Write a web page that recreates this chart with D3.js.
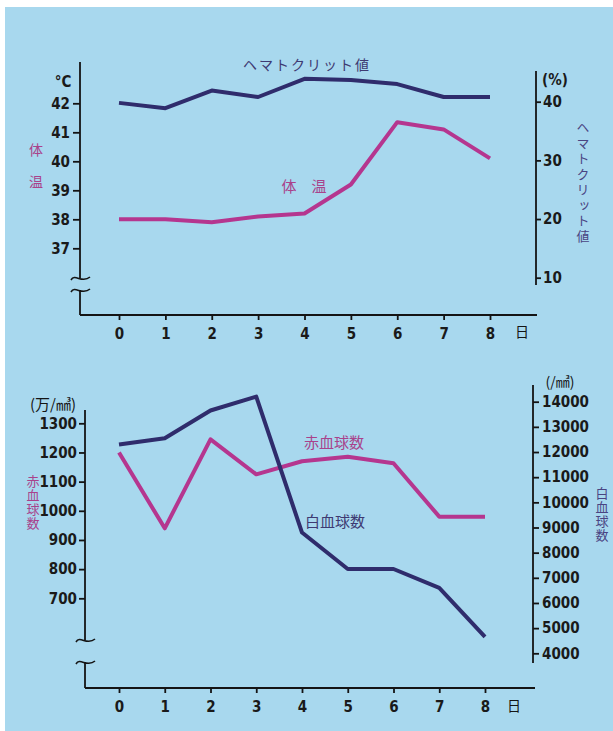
<!DOCTYPE html>
<html><head><meta charset="utf-8">
<script src="https://cdn.jsdelivr.net/npm/d3@7/dist/d3.min.js"></script>
<style>
html,body{margin:0;padding:0;background:#fff;}
svg{display:block;}
.num{font-family:"Liberation Sans Narrow","DejaVu Sans Condensed","Liberation Sans",sans-serif;font-weight:bold;font-size:15px;fill:#1a1a1a;}
.jp{font-family:"Noto Sans CJK JP",sans-serif;}
.vert{writing-mode:vertical-rl;text-orientation:upright;}
</style></head>
<body>
<svg id="c" width="613" height="731"></svg>
<script>
// ---------- data ----------
const days = [0,1,2,3,4,5,6,7,8];
const dayLabels = ["0","1","2","3","4","5","6","7","8"];
const bodyTemp = [38.0,38.0,37.9,38.1,38.2,39.2,41.35,41.1,40.1];      // °C
const hematocrit = [39.8,38.9,41.9,40.8,43.9,43.7,43.0,40.8,40.8];     // %
const rbc = [1200,940,1245,1125,1170,1185,1163,980,980];               // 万/㎣
const wbc = [12300,12550,13650,14200,8800,7350,7350,6600,4650];        // /㎣
const tempTicks = [37,38,39,40,41,42];
const hctTicks = [10,20,30,40];
const rbcTicks = [700,800,900,1000,1100,1200,1300];
const wbcTicks = [4000,5000,6000,7000,8000,9000,10000,11000,12000,13000,14000];

// ---------- style ----------
const BG = "#a8d8ee", NAVY = "#2f2c6c", MAG = "#b5368f";
const NAVY_T = "#3e3a72", MAG_T = "#a9428b", AX = "#141414";

const svg = d3.select("#c");
svg.append("rect").attr("x",5).attr("y",7).attr("width",608).attr("height",724).attr("fill",BG);

function tilde(g, cx, y){
  g.append("path")
   .attr("d",`M${cx-9},${y+2} C${cx-5},${y-5} ${cx+2},${y+6} ${cx+10},${y-1}`)
   .attr("fill","none").attr("stroke",AX).attr("stroke-width",1.6);
}
function styleAxis(g){
  g.select(".domain").remove();
  g.selectAll(".tick line").attr("stroke",AX).attr("stroke-width",1.8);
  g.selectAll(".tick text").attr("class","num").attr("fill",null);
}
function vlabel(text, x, yTop, spacing, color, size){
  svg.append("text").attr("class","jp vert").attr("x",x).attr("y",yTop)
    .attr("font-size",size).attr("letter-spacing",spacing).attr("fill",color)
    .text(text);
}

// ================= TOP CHART =================
{
  const x = d3.scaleLinear().domain([0,8]).range([119,490]);
  const yT = d3.scaleLinear().domain([37,42]).range([248.3,103.3]);
  const yH = d3.scaleLinear().domain([10,40]).range([277.7,101.7]);
  const axL = 80, axR = 536, axB = 315;

  const g = svg.append("g");
  g.append("line").attr("x1",axL).attr("x2",axL).attr("y1",62).attr("y2",278).attr("stroke",AX).attr("stroke-width",1.8);
  g.append("line").attr("x1",axL).attr("x2",axL).attr("y1",290).attr("y2",axB).attr("stroke",AX).attr("stroke-width",1.8);
  tilde(g, axL, 278); tilde(g, axL, 290);
  const la = g.append("g").attr("transform",`translate(${axL},0)`)
    .call(d3.axisLeft(yT).tickValues(tempTicks).tickSize(7).tickSizeOuter(0).tickPadding(3).tickFormat(d3.format("d")));
  styleAxis(la);
  g.append("line").attr("x1",axL).attr("x2",537).attr("y1",axB).attr("y2",axB).attr("stroke",AX).attr("stroke-width",1.8);
  const xa = g.append("g").attr("transform",`translate(0,${axB})`)
    .call(d3.axisBottom(x).tickValues(days).tickSize(5).tickSizeOuter(0).tickPadding(8).tickFormat((d,i)=>dayLabels[i]));
  styleAxis(xa);
  g.append("text").attr("class","jp").attr("x",522).attr("y",337).attr("text-anchor","middle").attr("font-size",14).attr("fill",AX).text("日");
  g.append("line").attr("x1",axR).attr("x2",axR).attr("y1",71).attr("y2",285).attr("stroke",AX).attr("stroke-width",1.8);
  const ra = g.append("g").attr("transform",`translate(${axR},0)`)
    .call(d3.axisRight(yH).tickValues(hctTicks).tickSize(5).tickSizeOuter(0).tickPadding(2).tickFormat(d3.format("d")));
  styleAxis(ra);
  g.append("text").attr("class","num").attr("x",63).attr("y",87).attr("text-anchor","middle").attr("font-size",13).text("°C");
  g.append("text").attr("class","num").attr("x",555).attr("y",85).attr("text-anchor","middle").attr("font-size",14).text("(%)");
  g.append("text").attr("class","jp").attr("x",36).attr("y",155).attr("text-anchor","middle").attr("font-size",14).attr("fill",MAG_T).text("体");
  g.append("text").attr("class","jp").attr("x",36).attr("y",187).attr("text-anchor","middle").attr("font-size",14).attr("fill",MAG_T).text("温");
  vlabel("ヘマトクリット値", 583, 121, 2.5, "#4a4482", 13);

  const lineH = d3.line().x((d,i)=>x(days[i])).y(d=>yH(d));
  const lineT = d3.line().x((d,i)=>x(days[i])).y(d=>yT(d));
  g.append("path").datum(hematocrit).attr("d",lineH).attr("fill","none").attr("stroke",NAVY).attr("stroke-width",4).attr("stroke-linejoin","round");
  g.append("path").datum(bodyTemp).attr("d",lineT).attr("fill","none").attr("stroke",MAG).attr("stroke-width",4).attr("stroke-linejoin","round");
  g.append("text").attr("class","jp").attr("x",307).attr("y",70).attr("text-anchor","middle").attr("font-size",14).attr("letter-spacing",2).attr("fill",NAVY_T).text("ヘマトクリット値");
  g.append("text").attr("class","jp").attr("x",304).attr("y",192).attr("text-anchor","middle").attr("font-size",15).attr("fill",MAG_T).text("体　温");
}

// ================= BOTTOM CHART =================
{
  const x = d3.scaleLinear().domain([0,8]).range([119,485]);
  const yR = d3.scaleLinear().domain([700,1300]).range([598.3,423.3]);
  const yW = d3.scaleLinear().domain([4000,14000]).range([653.3,401.7]);
  const axL = 85, axR = 533, axB = 688;

  const g = svg.append("g");
  g.append("line").attr("x1",axL).attr("x2",axL).attr("y1",410).attr("y2",640).attr("stroke",AX).attr("stroke-width",1.8);
  g.append("line").attr("x1",axL).attr("x2",axL).attr("y1",662).attr("y2",axB).attr("stroke",AX).attr("stroke-width",1.8);
  tilde(g, axL, 640); tilde(g, axL, 662);
  const la = g.append("g").attr("transform",`translate(${axL},0)`)
    .call(d3.axisLeft(yR).tickValues(rbcTicks).tickSize(6).tickSizeOuter(0).tickPadding(2).tickFormat(d3.format("d")));
  styleAxis(la);
  g.append("line").attr("x1",axL).attr("x2",535).attr("y1",axB).attr("y2",axB).attr("stroke",AX).attr("stroke-width",1.8);
  const xa = g.append("g").attr("transform",`translate(0,${axB})`)
    .call(d3.axisBottom(x).tickValues(days).tickSize(5).tickSizeOuter(0).tickPadding(8).tickFormat((d,i)=>dayLabels[i]));
  styleAxis(xa);
  g.append("text").attr("class","jp").attr("x",514).attr("y",711).attr("text-anchor","middle").attr("font-size",14).attr("fill",AX).text("日");
  g.append("line").attr("x1",axR).attr("x2",axR).attr("y1",385).attr("y2",663).attr("stroke",AX).attr("stroke-width",1.8);
  const ra = g.append("g").attr("transform",`translate(${axR},0)`)
    .call(d3.axisRight(yW).tickValues(wbcTicks).tickSize(6).tickSizeOuter(0).tickPadding(3).tickFormat(d3.format("d")));
  styleAxis(ra);
  g.append("text").attr("class","jp").attr("x",53).attr("y",410).attr("text-anchor","middle").attr("font-size",15).attr("fill",AX).text("(万/㎣)");
  g.append("text").attr("class","jp").attr("x",560).attr("y",387).attr("text-anchor","middle").attr("font-size",14).attr("fill",AX).text("(/㎣)");
  vlabel("赤血球数", 33, 475, 1, MAG_T, 13);
  vlabel("白血球数", 602, 487, 1, "#4a4482", 13);

  const lineR = d3.line().x((d,i)=>x(days[i])).y(d=>yR(d));
  const lineW = d3.line().x((d,i)=>x(days[i])).y(d=>yW(d));
  g.append("path").datum(rbc).attr("d",lineR).attr("fill","none").attr("stroke",MAG).attr("stroke-width",4).attr("stroke-linejoin","round");
  g.append("path").datum(wbc).attr("d",lineW).attr("fill","none").attr("stroke",NAVY).attr("stroke-width",4).attr("stroke-linejoin","round");
  g.append("text").attr("class","jp").attr("x",334).attr("y",448).attr("text-anchor","middle").attr("font-size",15).attr("fill",MAG_T).text("赤血球数");
  g.append("text").attr("class","jp").attr("x",335).attr("y",527).attr("text-anchor","middle").attr("font-size",15).attr("fill",NAVY_T).text("白血球数");
}
</script>
</body></html>
